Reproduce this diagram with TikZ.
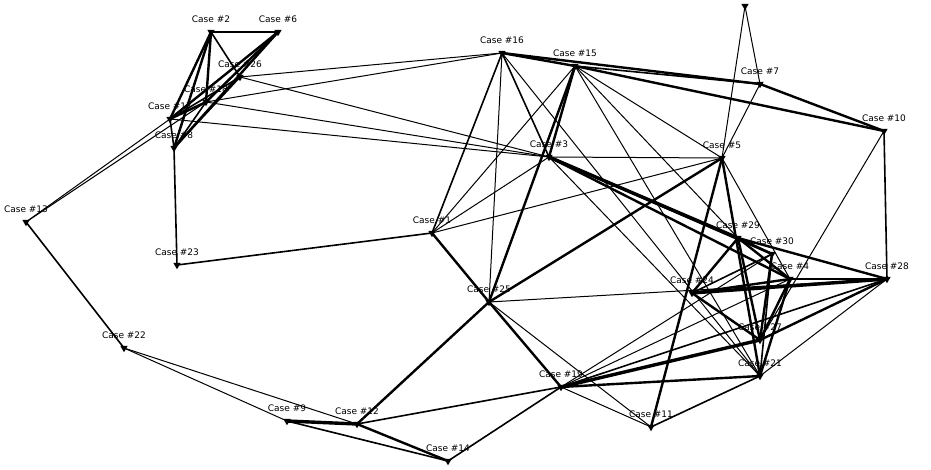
\documentclass[tikz,border=0pt]{standalone}
\usepackage{fontspec}
\setmainfont{DejaVu Sans}
\usetikzlibrary{shapes.geometric}
\tikzset{
  mk/.style={regular polygon, regular polygon sides=3, shape border rotate=180, fill=black, draw=none, inner sep=0pt, minimum size=8.5pt},
  lab/.style={font=\fontsize{9}{10}\selectfont, inner sep=0pt, label distance=6.5pt},
  ea/.style={line width=1.0pt},
  eb/.style={line width=1.6pt},
  ec/.style={line width=2.4pt},
  ed/.style={line width=3.4pt},
}
\begin{document}
\begin{tikzpicture}[x=1pt,y=-1pt]
\useasboundingbox[fill=white] (0,0) rectangle (931,470);
% nodes
\foreach \n/\x/\y in {2/211/32, 6/278/32, 26/240/77, 18/206/102, 17/170/119, 8/174/148,
  13/26/222, 23/177/265, 22/124/348, 9/287/421, 12/357/424, 14/448/461,
  16/502/53, 15/575/66, 3/549/157, 1/432/233, 25/489/302, 19/561/387, 11/651/427,
  5/722/158, 7/760/84, 10/884/131, 29/738/238, 30/772/254, 4/790/279, 24/692/293,
  28/887/279, 27/760/340, 21/760/376}
  \node[mk, label={[lab]above:Case \#\n}] (n\n) at (\x,\y) {};
\node[mk] (n20) at (745,6) {};
% edges
\foreach \a/\b/\s in {
  2/6/ec, 2/26/eb, 2/18/ec, 2/17/ec, 2/8/ec, 6/18/ec, 6/17/ec, 6/8/ec,
  26/17/eb, 26/8/eb, 17/18/ec, 17/8/eb, 18/8/eb,
  13/17/ea, 13/18/ea, 8/23/eb, 13/22/eb, 22/9/ea, 22/12/ea,
  9/12/ed, 9/14/eb, 12/14/ec, 12/25/ec, 12/19/eb, 14/19/eb, 23/1/eb,
  26/16/ea, 18/16/ea, 26/3/ea, 18/3/ea, 17/3/ea,
  16/15/ec, 16/7/ec, 15/7/eb, 15/10/ec,
  16/1/eb, 16/25/ea, 16/3/eb, 16/21/ea,
  15/1/ea, 15/3/ec, 15/25/ec, 15/5/ea, 15/21/ea, 15/29/ea,
  3/5/ea, 3/1/ea, 3/29/ed, 3/30/ec, 3/4/ec, 3/21/ea,
  1/5/ea, 1/25/ec,
  5/11/ec, 5/25/ec, 5/21/ec, 5/4/ea, 5/7/ea, 5/20/ea,
  7/20/ea, 7/10/ec, 10/28/eb, 10/27/ea,
  25/19/ec, 25/28/ea, 25/11/ea,
  19/21/ec, 19/27/ed, 19/28/eb, 19/11/ea, 19/30/ea, 19/4/ea,
  11/21/eb,
  29/30/ec, 29/4/ec, 29/28/ec, 29/24/ec, 29/27/ec,
  30/24/eb, 30/27/ec, 30/21/eb,
  4/24/ec, 4/27/ec, 4/21/ec, 4/28/ec,
  24/28/ed, 24/27/ec, 28/27/ec, 28/21/ea}
  \draw[\s] (n\a.center) -- (n\b.center);
\end{tikzpicture}
\end{document}
